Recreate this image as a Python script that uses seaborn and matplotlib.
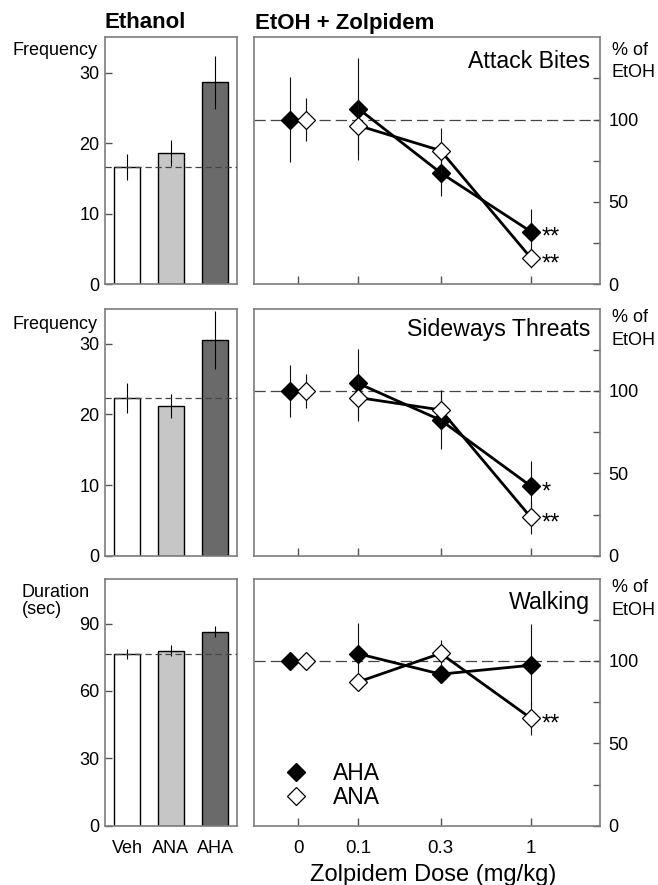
import numpy as np
import matplotlib
matplotlib.use('Agg')
import matplotlib.pyplot as plt
from matplotlib.lines import Line2D
import seaborn as sns

sns.set_theme(style='white')
plt.rcParams['font.family'] = ['Liberation Sans', 'DejaVu Sans']
plt.rcParams['text.color'] = 'black'
plt.rcParams['axes.labelcolor'] = 'black'
plt.rcParams['xtick.labelcolor'] = 'black'
plt.rcParams['ytick.labelcolor'] = 'black'

# ---- data ----
bar_groups = ['Veh', 'ANA', 'AHA']
bar_colours = ['#ffffff', '#c6c6c6', '#6a6a6a']

attack_bar = [16.6, 18.6, 28.6]
attack_bar_err = [1.8, 1.8, 3.8]
threat_bar = [22.3, 21.2, 30.5]
threat_bar_err = [2.1, 1.7, 4.1]
walk_bar = [76.3, 77.9, 86.4]
walk_bar_err = [2.3, 2.5, 2.4]

doses = ['0', '0.1', '0.3', '1']
dose_pos = [0.045, 0.1, 0.3, 1.0]   # "0" is placed left of 0.1 on the log axis

attack_aha = [100, 106.7, 67.7, 32.0]
attack_aha_err = [26, 31, 14, 14]
attack_ana = [100, 96.4, 81.2, 16.0]
attack_ana_err = [13, 17, 14, 6]

threat_aha = [100, 104.6, 82.3, 42.2]
threat_aha_err = [16, 21, 17.5, 15]
threat_ana = [100, 96.0, 88.5, 23.2]
threat_ana_err = [10.5, 14.5, 12, 10]

walk_aha = [100, 104.4, 92.0, 97.4]
walk_aha_err = [5, 18.5, 5, 25]
walk_ana = [100, 87.3, 104.6, 65.2]
walk_ana_err = [2, 5, 8, 10]

rows = [
    dict(bar=attack_bar, bar_err=attack_bar_err, ymax=35, yticks=[0, 10, 20, 30],
         ylab=['Frequency'], ylab_y=[0.929], title='Attack Bites', title_y=0.8755,
         pct_y=(0.929, 0.839),
         aha=attack_aha, aha_err=attack_aha_err, ana=attack_ana, ana_err=attack_ana_err,
         stars=('**', '**')),
    dict(bar=threat_bar, bar_err=threat_bar_err, ymax=35, yticks=[0, 10, 20, 30],
         ylab=['Frequency'], ylab_y=[0.919], title='Sideways Threats', title_y=0.889,
         pct_y=(0.946, 0.852),
         aha=threat_aha, aha_err=threat_aha_err, ana=threat_ana, ana_err=threat_ana_err,
         stars=('*', '**')),
    dict(bar=walk_bar, bar_err=walk_bar_err, ymax=110, yticks=[0, 30, 60, 90],
         ylab=['Duration', '(sec)'], ylab_y=[0.926, 0.856], title='Walking', title_y=0.879,
         pct_y=(0.946, 0.852),
         aha=walk_aha, aha_err=walk_aha_err, ana=walk_ana, ana_err=walk_ana_err,
         stars=('', '**')),
]

spine_col = '#7d7d7d'
tick_fs = 13

fig = plt.figure(figsize=(6.58, 8.85), dpi=100)
bottoms = [0.6787, 0.3721, 0.0670]
h = 0.2792

dodge = 10 ** 0.0465

for i, r in enumerate(rows):
    axl = fig.add_axes([0.1596, bottoms[i], 0.2006, h])
    axr = fig.add_axes([0.3860, bottoms[i], 0.5258, h])

    # ---- left: ethanol bars ----
    sns.barplot(x=bar_groups, y=r['bar'], hue=bar_groups, palette=bar_colours,
                legend=False, edgecolor='black', linewidth=1.0, width=0.6,
                errorbar=None, ax=axl)
    axl.errorbar(np.arange(3), r['bar'], yerr=r['bar_err'], fmt='none',
                 ecolor='black', elinewidth=0.8, capsize=0, zorder=3)
    axl.axhline(r['bar'][0], color='#444444', lw=0.9, dashes=(5, 3), zorder=4)
    axl.set_xlim(-0.5, 2.5)
    axl.set_ylim(0, r['ymax'])
    axl.set_yticks(r['yticks'])
    axl.tick_params(axis='y', direction='in', length=5, width=1, color='#555555',
                    labelsize=tick_fs, pad=4, left=True)
    axl.tick_params(axis='x', length=0, labelsize=tick_fs, pad=10)
    if i < 2:
        axl.set_xticklabels([])
    axl.set_xlabel('')
    axl.set_ylabel('')
    if i < 2:
        axl.text(-0.06, r['ylab_y'][0], r['ylab'][0], transform=axl.transAxes,
                 ha='right', va='baseline', fontsize=13)
    else:
        for lab, yy in zip(r['ylab'], r['ylab_y']):
            axl.text(-0.63, yy, lab, transform=axl.transAxes, ha='left',
                     va='baseline', fontsize=13)

    # ---- right: zolpidem dose response ----
    x_aha = list(dose_pos)
    x_ana = list(dose_pos)
    x_aha[0] = dose_pos[0] / dodge
    x_ana[0] = dose_pos[0] * dodge

    axr.axhline(100, color='#444444', lw=0.9, dashes=(9, 4), zorder=1)
    sns.lineplot(x=dose_pos[1:], y=r['aha'][1:], color='black', lw=2.0, ax=axr, zorder=2)
    sns.lineplot(x=dose_pos[1:], y=r['ana'][1:], color='black', lw=2.0, ax=axr, zorder=2)
    axr.errorbar(x_aha, r['aha'], yerr=r['aha_err'], fmt='D', ms=9,
                 mfc='black', mec='black', mew=1, ecolor='#111111',
                 elinewidth=0.8, capsize=0, zorder=3)
    axr.errorbar(x_ana, r['ana'], yerr=r['ana_err'], fmt='D', ms=9,
                 mfc='white', mec='black', mew=0.9, ecolor='#111111',
                 elinewidth=0.8, capsize=0, zorder=4)
    for vals, st in zip((r['aha'], r['ana']), r['stars']):
        if st:
            axr.annotate(st, (dose_pos[-1], vals[-1]), xytext=(7.5, -4.5),
                         textcoords='offset points', ha='left', va='center',
                         fontsize=17)

    axr.set_xscale('log')
    axr.set_xlim(0.0249, 2.51)
    axr.set_ylim(0, 150)
    axr.set_xticks(dose_pos)
    axr.minorticks_off()
    axr.set_xticklabels(doses if i == 2 else [])
    axr.tick_params(axis='x', direction='in', length=6, width=1, color='#555555',
                    labelsize=13.5, pad=10, bottom=True)
    axr.yaxis.tick_right()
    axr.set_yticks([0, 25, 50, 75, 100, 125])
    axr.set_yticklabels(['0', '', '50', '', '100', ''])
    axr.tick_params(axis='y', direction='in', length=5, width=1, color='#555555',
                    labelsize=tick_fs, pad=6, right=True, left=False)
    axr.text(0.971, r['title_y'], r['title'], transform=axr.transAxes, ha='right',
             va='baseline', fontsize=16.7)
    for lab, yy in zip(['% of', 'EtOH'], r['pct_y']):
        axr.text(1.034, yy, lab, transform=axr.transAxes, ha='left',
                 va='baseline', fontsize=13)

    for ax in (axl, axr):
        for s in ax.spines.values():
            s.set_color(spine_col)
            s.set_linewidth(1.2)

    if i == 2:
        axr.set_xlabel('Zolpidem Dose (mg/kg)', fontsize=17)
        axr.xaxis.set_label_coords(0.517, -0.155)
        axr.xaxis.label.set_verticalalignment('top')
        handles = [Line2D([], [], ls='none', marker='D', ms=9, mfc='black', mec='black'),
                   Line2D([], [], ls='none', marker='D', ms=9, mfc='white', mec='black', mew=0.9)]
        axr.legend(handles, ['AHA', 'ANA'], loc='upper left', bbox_to_anchor=(0.087, 0.258),
                   frameon=False, fontsize=16.5, handlelength=1.0, handletextpad=1.15,
                   labelspacing=0.05, borderpad=0, borderaxespad=0)

fig.text(105 / 658, 1 - 28.5 / 885, 'Ethanol', fontsize=16, fontweight='bold',
         ha='left', va='baseline')
fig.text(255 / 658, 1 - 28.5 / 885, 'EtOH + Zolpidem', fontsize=16, fontweight='bold',
         ha='left', va='baseline')

fig.savefig('out.png', dpi=100)
